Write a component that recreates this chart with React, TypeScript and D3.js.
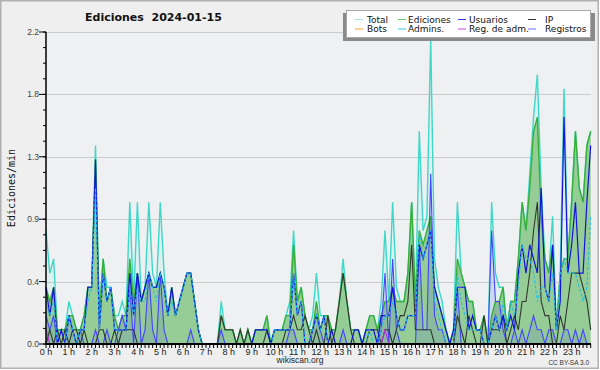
import React from 'react';
import * as d3 from 'd3';

// 10-minute slots, 144 per day, values in edits/min
const hourLabels = ['0 h', '1 h', '2 h', '3 h', '4 h', '5 h', '6 h', '7 h', '8 h', '9 h', '10 h', '11 h',
  '12 h', '13 h', '14 h', '15 h', '16 h', '17 h', '18 h', '19 h', '20 h', '21 h', '22 h', '23 h'];
const yTickLabels = ['0.0', '0.4', '0.9', '1.3', '1.8', '2.2'];

const total = [
  0.8, 0.5, 0.6, 0.1, 0.1, 0.1, 0.3, 0.2, 0.1, 0.1, 0.2, 0.4,
  0.4, 1.4, 0.2, 0.6, 0.4, 0.4, 0.2, 0.2, 0.3, 0.2, 1.0, 0.3,
  1.0, 0.3, 0.4, 1.0, 0.5, 0.4, 1.0, 0.5, 0.2, 0.4, 0.2, 0.3,
  0.4, 0.5, 0.5, 0.3, 0.1, 0, 0, 0, 0, 0, 0.3, 0.1,
  0.1, 0.1, 0, 0.1, 0, 0.1, 0, 0.1, 0.1, 0.1, 0.2, 0,
  0.1, 0.1, 0.1, 0.2, 0.3, 0.8, 0.3, 0.4, 0.2, 0.1, 0.2, 0.5,
  0.2, 0.2, 0.2, 0.1, 0.1, 0.3, 0.6, 0.3, 0.1, 0.1, 0.1, 0,
  0.1, 0.2, 0.2, 0.1, 0.3, 0.8, 0.3, 1.0, 0.4, 0.3, 0.3, 0.5,
  1.0, 0.3, 1.5, 0.8, 0.9, 2.15, 0.6, 0.4, 0.3, 0.1, 0, 0.1,
  1.0, 0.5, 0.4, 0.3, 0.3, 0.1, 0.1, 0.2, 0, 1.0, 0.5, 0.4,
  0.4, 0.1, 0.3, 0.3, 0.6, 1.0, 0.8, 1.2, 1.6, 1.9, 1.1, 0.6,
  0.5, 0.9, 0.1, 0.5, 1.8, 0.6, 1.0, 1.5, 1.1, 1.0, 1.4, 1.5,
];
const ediciones = [
  0.4, 0.3, 0.4, 0.1, 0.1, 0.1, 0.2, 0.2, 0.1, 0.1, 0.2, 0.4,
  0.4, 1.3, 0.2, 0.6, 0.3, 0.4, 0.2, 0.1, 0.2, 0.2, 0.6, 0.3,
  0.5, 0.3, 0.4, 0.5, 0.4, 0.4, 0.5, 0.4, 0.2, 0.4, 0.2, 0.3,
  0.4, 0.5, 0.5, 0.3, 0.1, 0, 0, 0, 0, 0, 0.2, 0.1,
  0.1, 0.1, 0, 0.1, 0, 0.1, 0, 0.1, 0.1, 0.1, 0.2, 0,
  0.1, 0.1, 0.1, 0.2, 0.2, 0.7, 0.3, 0.4, 0.2, 0.1, 0.1, 0.3,
  0.1, 0.2, 0.2, 0.1, 0.1, 0.3, 0.5, 0.3, 0.1, 0.1, 0.1, 0,
  0.1, 0.2, 0.2, 0.1, 0.2, 0.3, 0.3, 0.4, 0.3, 0.3, 0.3, 0.5,
  1.0, 0.3, 0.8, 0.7, 0.8, 0.9, 0.4, 0.3, 0.2, 0.1, 0, 0.1,
  0.6, 0.5, 0.4, 0.3, 0.3, 0.1, 0.1, 0.2, 0, 0.2, 0.3, 0.3,
  0.4, 0.1, 0.3, 0.3, 0.6, 1.0, 0.8, 1.1, 1.5, 1.6, 0.9, 0.6,
  0.5, 0.7, 0.1, 0.5, 0.6, 0.6, 1.0, 1.5, 1.1, 1.0, 1.4, 1.5,
];
const usuarios = [
  0.4, 0.2, 0.4, 0, 0.1, 0, 0.2, 0.1, 0, 0.1, 0.1, 0.4,
  0.4, 1.3, 0.1, 0.5, 0.3, 0.4, 0.1, 0.1, 0.1, 0.1, 0.5, 0.2,
  0.5, 0.3, 0.4, 0.5, 0.4, 0.4, 0.5, 0.4, 0.2, 0.4, 0.2, 0.3,
  0.4, 0.5, 0.5, 0.3, 0.1, 0, 0, 0, 0, 0, 0, 0,
  0, 0, 0, 0, 0, 0, 0, 0.1, 0.1, 0.1, 0.1, 0,
  0.1, 0.1, 0.1, 0.1, 0.1, 0.5, 0.2, 0.3, 0, 0, 0.1, 0.2,
  0.1, 0.2, 0, 0.1, 0, 0, 0, 0, 0, 0.1, 0.1, 0,
  0.1, 0.1, 0.1, 0, 0.2, 0.2, 0.2, 0.4, 0.2, 0.1, 0.1, 0.2,
  0.2, 0.2, 0.7, 0.6, 0.7, 0.8, 0.4, 0.3, 0.2, 0.1, 0, 0.1,
  0.4, 0.4, 0.4, 0.1, 0.2, 0.1, 0.1, 0, 0, 0.1, 0.2, 0.1,
  0.2, 0.1, 0.2, 0.1, 0.5, 0.7, 0.5, 0.7, 0.6, 0.5, 1.1, 0.4,
  0.3, 0.7, 0.1, 0.3, 1.6, 0.5, 0.7, 1.0, 0.5, 0.5, 1.0, 1.4,
];
const ip = [
  0, 0.1, 0, 0.1, 0, 0.1, 0, 0.1, 0.1, 0, 0.1, 0,
  0, 0, 0.1, 0.1, 0, 0, 0.1, 0, 0.1, 0.1, 0.1, 0.1,
  0, 0, 0, 0, 0, 0, 0, 0, 0, 0, 0, 0,
  0, 0, 0, 0, 0, 0, 0, 0, 0, 0, 0.2, 0.1,
  0.1, 0.1, 0, 0.1, 0, 0.1, 0, 0, 0, 0, 0.1, 0,
  0, 0, 0, 0.1, 0.1, 0.2, 0.1, 0.1, 0.2, 0.1, 0, 0.1,
  0, 0, 0.2, 0, 0.1, 0.3, 0.5, 0.3, 0.1, 0, 0, 0,
  0, 0.1, 0.1, 0.1, 0, 0.1, 0.1, 0, 0.1, 0.2, 0.2, 0.3,
  0.7, 0.1, 0.1, 0.1, 0.1, 0.1, 0, 0, 0, 0, 0, 0,
  0.2, 0.1, 0, 0.2, 0.1, 0, 0, 0.2, 0, 0.1, 0.1, 0.1,
  0.2, 0, 0.1, 0.2, 0.1, 0.3, 0.3, 0.5, 0.8, 1.0, 0.3, 0.2,
  0.2, 0, 0, 0.2, 0.1, 0.3, 0.5, 0.5, 0.5, 0.4, 0.3, 0.1,
];
const admins = [
  0.3, 0.2, 0.3, 0, 0, 0, 0.2, 0.1, 0, 0.1, 0.1, 0.3,
  0.4, 1.1, 0.1, 0.5, 0.3, 0.4, 0.1, 0.1, 0.1, 0.1, 0.4, 0.2,
  0.4, 0.3, 0.3, 0.5, 0.4, 0.3, 0.5, 0.4, 0.2, 0.3, 0.2, 0.3,
  0.4, 0.5, 0.5, 0.3, 0.1, 0, 0, 0, 0, 0, 0, 0,
  0, 0, 0, 0, 0, 0, 0, 0, 0, 0, 0, 0,
  0.1, 0.1, 0.1, 0.1, 0.1, 0.5, 0.2, 0.3, 0, 0, 0.1, 0.2,
  0.1, 0.2, 0, 0, 0, 0, 0, 0, 0, 0, 0, 0,
  0, 0.1, 0, 0, 0.1, 0.2, 0.2, 0.3, 0.2, 0.1, 0.1, 0.2,
  0.2, 0.2, 0.8, 0.6, 0.7, 0.8, 0.3, 0.2, 0.1, 0, 0, 0,
  0.5, 0.3, 0.2, 0.1, 0.1, 0.1, 0.1, 0, 0, 0.1, 0.2, 0.1,
  0.3, 0.1, 0.3, 0.2, 0.4, 0.7, 0.6, 0.6, 0.5, 0.3, 0.4, 0.4,
  0.3, 0.5, 0.1, 0.5, 0.6, 0.5, 0.5, 0.5, 0.4, 0.3, 0.4, 0.9,
];
const registros = [
  0.2, 0.1, 0.2, 0, 0, 0, 0.2, 0.1, 0, 0.1, 0, 0,
  0, 0.1, 0, 0, 0.1, 0, 0, 0.1, 0.2, 0.1, 0.4, 0,
  0.5, 0, 0.1, 0.5, 0.1, 0, 0.5, 0.1, 0, 0, 0, 0,
  0, 0, 0.1, 0, 0, 0, 0, 0, 0, 0, 0.1, 0,
  0, 0, 0, 0, 0, 0, 0, 0, 0, 0, 0, 0,
  0, 0, 0, 0, 0.1, 0.1, 0, 0, 0, 0, 0.1, 0.2,
  0.1, 0, 0, 0, 0, 0, 0.1, 0, 0, 0, 0, 0,
  0, 0, 0, 0, 0.1, 0.5, 0, 0.6, 0.1, 0, 0, 0,
  0, 0, 0.7, 0.1, 0.1, 1.2, 0.2, 0.1, 0.1, 0, 0, 0,
  0.4, 0, 0, 0, 0, 0, 0, 0, 0, 0.8, 0.3, 0.3,
  0.1, 0, 0, 0.1, 0, 0.1, 0, 0.1, 0.2, 0.1, 0.1, 0,
  0.1, 0.1, 0, 0, 0.1, 0.1, 0, 0.1, 0, 0.1, 0, 0,
];
const regAdm = [
  0.1, 0, 0, 0, 0, 0, 0, 0, 0, 0, 0, 0,
  0, 0, 0, 0, 0, 0, 0, 0, 0, 0, 0, 0,
  0, 0, 0, 0, 0, 0, 0, 0, 0, 0, 0, 0,
  0, 0, 0, 0, 0, 0, 0, 0, 0, 0, 0, 0,
  0, 0, 0, 0, 0, 0, 0, 0, 0, 0, 0, 0,
  0, 0, 0, 0, 0, 0, 0, 0, 0, 0, 0, 0,
  0, 0, 0, 0, 0, 0, 0, 0, 0, 0, 0, 0,
  0, 0, 0, 0, 0, 0.1, 0, 0, 0, 0, 0, 0,
  0, 0, 0, 0, 0, 0, 0, 0, 0, 0, 0, 0,
  0, 0, 0, 0, 0, 0, 0, 0, 0, 0, 0, 0,
  0, 0, 0, 0, 0, 0, 0, 0, 0, 0, 0, 0,
  0, 0, 0, 0, 0, 0, 0, 0, 0, 0, 0, 0,
];

const legendItems = [
  { name: 'Total', color: '#9ee8e0' },
  { name: 'Ediciones', color: '#6fcf6f' },
  { name: 'Usuarios', color: '#3535f0' },
  { name: 'IP', color: '#333333' },
  { name: 'Bots', color: '#ff9f30' },
  { name: 'Admins.', color: '#38cce8' },
  { name: 'Reg. de adm.', color: '#d040e8' },
  { name: 'Registros', color: '#6a6aff' },
];

const tickFont = '"Liberation Sans", Arial, sans-serif';
const dejavu = '"DejaVu Sans", sans-serif';

export default function App() {
  const left = 46;
  const right = 594.5;
  const top = 32;
  const bottom = 344;

  const x = d3.scaleLinear().domain([0, 144]).range([left, right]);
  const y = d3.scaleLinear().domain([0, 2.2]).range([bottom, top]);

  const line = d3.line<number>().x((_, i) => x(i)).y((d) => y(d));
  const area = d3.area<number>().x((_, i) => x(i)).y0(y(0)).y1((d) => y(d));

  const majorY = d3.range(yTickLabels.length).map((k) => k * 0.44);
  const minorY = d3.range(21).map((k) => k * 0.11);
  const xTicks = d3.range(144);

  // legend layout
  const legLineX = [355, 398, 458, 528];
  const legTextX = [367, 408, 469, 545];
  const legRowY = [19.5, 29];

  return (
    <svg width={600} height={370} style={{ position: 'absolute', left: 0, top: 0 }}>
      <rect x={0.75} y={0.75} width={597.5} height={367.5} fill="#efefef" stroke="#b0b0b0" strokeWidth={1.5} />
      <rect x={left} y={top} width={right - left - 3} height={bottom - top} fill="#eef0f2" />

      {/* grid */}
      {majorY.slice(1).map((v) => (
        <line key={v} x1={left} x2={591} y1={Math.round(y(v)) + 0.5} y2={Math.round(y(v)) + 0.5} stroke="#cbcbcb" strokeWidth={1} />
      ))}

      {/* fills */}
      <path d={area(total) || ''} fill="rgba(64,224,208,0.08)" />
      <path d={area(ediciones) || ''} fill="#96cc96" />
      <path d={area(registros) || ''} fill="rgba(40,40,240,0.10)" />

      {/* lines */}
      <path d={line(total) || ''} fill="none" stroke="#3fd8c8" strokeWidth={1.4} />
      <path d={line(ediciones) || ''} fill="none" stroke="#38b038" strokeWidth={1.4} />
      <path d={line(registros) || ''} fill="none" stroke="#4444ff" strokeWidth={1.1} />
      <path d={line(ip) || ''} fill="none" stroke="#303830" strokeWidth={1.1} />
      <path d={line(usuarios) || ''} fill="none" stroke="#1212dd" strokeWidth={1.2} />
      <path d={line(admins) || ''} fill="none" stroke="#22bce6" strokeWidth={1.1} strokeDasharray="3 2" />
      <path d={line(regAdm) || ''} fill="none" stroke="#c030e0" strokeWidth={1.1} />

      {/* y axis */}
      <line x1={left} x2={left} y1={top} y2={bottom} stroke="#000" strokeWidth={1.5} />
      {minorY.map((v) => (
        <line key={'m' + v} x1={left - 3} x2={left} y1={y(v)} y2={y(v)} stroke="#000" strokeWidth={1} />
      ))}
      {majorY.map((v, k) => (
        <g key={'M' + v}>
          <line x1={left - 7} x2={left} y1={y(v)} y2={y(v)} stroke="#000" strokeWidth={1} />
          <text x={left - 7} y={y(v) + 3} textAnchor="end" fontSize={8.5} fontFamily={tickFont} fill="#444">
            {yTickLabels[k]}
          </text>
        </g>
      ))}

      {/* x axis */}
      {xTicks.map((i) => (
        <line key={'x' + i} x1={x(i)} x2={x(i)} y1={bottom} y2={bottom + 4} stroke="#000" strokeWidth={1} />
      ))}
      <line x1={left} x2={591} y1={bottom} y2={bottom} stroke="#000" strokeWidth={1.8} />
      {hourLabels.map((h, k) => (
        <text key={h} x={x(k * 6)} y={354.5} textAnchor="middle" fontSize={9} fontFamily={tickFont} fill="#222">
          {h}
        </text>
      ))}

      {/* titles */}
      <text x={85} y={21} fontSize={11} fontWeight="bold" fontFamily={dejavu} fill="#111" style={{ whiteSpace: 'pre' }}>
        {'Ediciones  2024-01-15'}
      </text>
      <text
        transform={`translate(15,${(top + bottom) / 2}) rotate(-90)`}
        textAnchor="middle"
        fontSize={10}
        fontFamily='"DejaVu Sans Mono", monospace'
        fill="#111"
      >
        Ediciones/min
      </text>
      <text x={300} y={363} textAnchor="middle" fontSize={8.5} fontFamily={tickFont} fill="#222">
        wikiscan.org
      </text>
      <text x={589} y={365} textAnchor="end" fontSize={6.5} fontFamily={tickFont} fill="#333">
        CC BY-SA 3.0
      </text>

      {/* legend */}
      <rect x={343} y={13} width={252} height={28} fill="#8a8a8a" />
      <rect x={346.5} y={10.5} width={244} height={27} fill="#ffffff" stroke="#a8a8a8" strokeWidth={1} />
      {legendItems.map((it, k) => {
        const col = k % 4;
        const row = Math.floor(k / 4);
        const ly = legRowY[row];
        return (
          <g key={it.name}>
            <line x1={legLineX[col]} x2={legLineX[col] + 8} y1={ly} y2={ly} stroke={it.color} strokeWidth={1} />
            <text x={legTextX[col]} y={ly + 3.3} fontSize={9} fontFamily={dejavu} fill="#111">
              {it.name}
            </text>
          </g>
        );
      })}
    </svg>
  );
}
